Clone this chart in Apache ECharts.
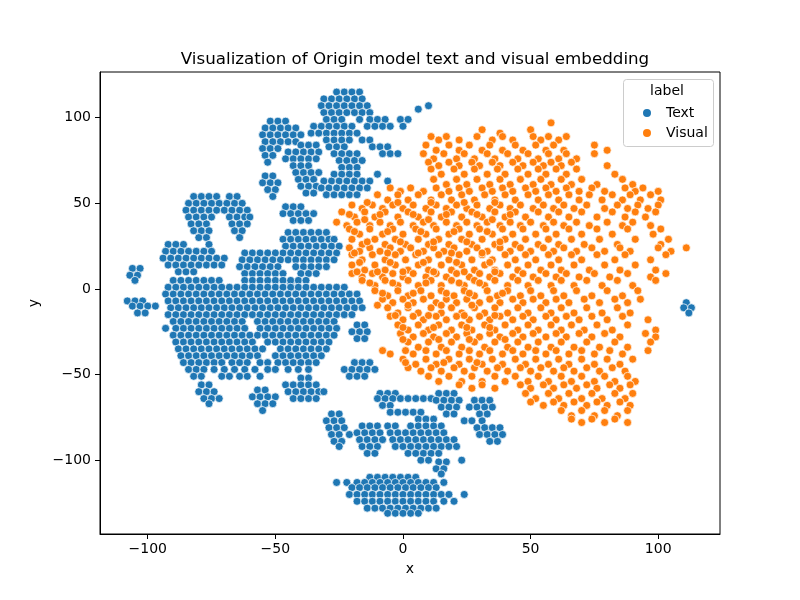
<!DOCTYPE html>
<html>
<head>
<meta charset="utf-8">
<script src="https://cdn.jsdelivr.net/npm/echarts@6/dist/echarts.min.js"></script>
<style>
    html, body { margin: 0; padding: 0; background: #fff; }
    #chart { width: 800px; height: 600px; }
</style>
</head>
<body>
<div id="chart"></div>
<script>
// every row is [y, x1, x2, ...]
const textTopRows = [
    [115, -26, -23, -20, -17],
    [111, -31, -28, -25, -22, -19, -16],
    [107, -32, -29, -26, -23, -20, -17, -14, 10],
    [103, -31, -28, -25, -22, -19, -16, -13],
    [105, 6],
    [99, -30, -27, -24, -17, -13, -10, -7, -1, 2],
    [95, -35, -32, -29, -26, -23, -20, -14, -11, -8, -5, 0],
    [91, -36, -33, -30, -27, -24, -21, -18],
    [98, -52, -49, -46],
    [94, -54, -51, -48, -45, -42],
    [90, -55, -52, -49, -46, -43, -40],
    [86, -54, -51, -48, -45, -42],
    [82, -55, -52, -49],
    [78, -54, -51],
    [74, -53],
    [84, -40, -37, -34],
    [80, -45, -42, -39, -36, -33],
    [76, -46, -43, -40, -37, -34],
    [72, -43, -40, -37],
    [68, -42, -39, -36, -33],
    [64, -41, -38, -35],
    [60, -40, -37, -34],
    [56, -38, -35],
    [87, -30, -27, -24, -21, -16, -13],
    [83, -29, -26, -23, -12, -9, -6],
    [79, -27, -24, -21, -18, -8, -5, -2],
    [75, -25, -22, -19, -16],
    [71, -24, -21, -18],
    [67, -27, -24, -21, -18, -10],
    [63, -31, -28, -25, -22, -19, -16, -13, -6],
    [59, -32, -29, -26, -23, -20, -17, -14],
    [55, -30, -27, -24, -21, -18],
    [66, -54, -51],
    [62, -55, -52, -49],
    [58, -53, -50],
    [54, -51],
    [48, -46, -43, -40],
    [44, -47, -44, -41, -38, -35],
    [40, -43, -40, -37]
];

const textLeftRows = [
    [33, -45, -42, -39, -36, -33, -30],
    [29, -47, -44, -41, -38, -35, -32, -29, -27],
    [25, -46, -43, -40, -37, -34, -31, -28, -25],
    [21, -47, -44, -41, -38, -35, -32, -29, -26],
    [17, -45, -42, -39, -36, -33, -30, -27],
    [13, -42, -39, -36, -33, -30],
    [9, -40, -37, -34],
    [3, -44],
    [54, -82, -79, -76, -73, -68, -65],
    [50, -84, -81, -78, -75, -72, -69, -66, -63],
    [46, -85, -82, -79, -76, -73, -70, -67, -64, -61],
    [42, -84, -81, -78, -75, -68, -65, -62, -60],
    [38, -83, -80, -77, -67, -64, -61],
    [34, -82, -79, -76, -66, -63],
    [30, -80, -77, -64],
    [26, -92, -89, -86, -76],
    [22, -93, -90, -87, -84, -81, -78, -75],
    [18, -94, -91, -88, -85, -82, -79, -76, -73, -70],
    [14, -92, -89, -86, -83, -80, -77, -74, -71],
    [10, -88, -85, -82],
    [12, -106, -103],
    [8, -107, -104],
    [5, -105],
    [-7, -108, -105, -102],
    [-10, -106, -103, -100, -97],
    [-14, -104, -101]
];

const textMainRows = [
    [21, -62, -59, -56, -53, -50],
    [17, -63, -60, -57, -54, -51, -48],
    [13, -64, -61, -58, -55, -52, -49],
    [9, -62, -59, -56, -53, -50, -47],
    [5, -90, -87, -84, -81, -78, -75, -72, -62, -59, -56, -53, -50, -47, -44, -41, -38],
    [1, -92, -89, -86, -83, -80, -77, -74, -71, -68, -65, -62, -59, -56, -53, -50, -47, -44, -41, -38, -35, -32, -29, -26, -23],
    [-3, -93, -90, -87, -84, -81, -78, -75, -72, -69, -66, -63, -60, -57, -54, -51, -48, -45, -42, -39, -36, -33, -30, -27, -24, -21, -18],
    [-7, -92, -89, -86, -83, -80, -77, -74, -71, -68, -65, -62, -59, -56, -53, -50, -47, -44, -41, -38, -35, -32, -29, -26, -23, -20, -17],
    [-11, -91, -88, -85, -82, -79, -76, -73, -70, -67, -64, -61, -58, -55, -52, -49, -46, -43, -40, -37, -34, -31, -28, -25, -22, -19, -16],
    [-15, -92, -89, -86, -83, -80, -77, -74, -71, -68, -65, -62, -59, -56, -53, -50, -47, -44, -41, -38, -35, -32, -29, -26, -23, -20],
    [-19, -90, -87, -84, -81, -78, -75, -72, -69, -66, -63, -57, -54, -51, -48, -45, -42, -39, -36, -33, -30, -27],
    [-23, -93, -89, -86, -83, -80, -77, -74, -71, -68, -65, -62, -56, -53, -50, -47, -44, -41, -38, -35, -32, -29, -26],
    [-27, -90, -87, -84, -81, -78, -75, -72, -69, -66, -63, -60, -57, -54, -51, -48, -45, -42, -39, -36, -33, -30, -27],
    [-31, -89, -86, -83, -80, -77, -74, -71, -68, -65, -62, -59, -53, -50, -47, -44, -41, -38, -35, -32, -29],
    [-35, -88, -85, -82, -79, -76, -73, -70, -67, -64, -61, -58, -55, -48, -45, -42, -39, -36, -33, -30],
    [-39, -87, -84, -81, -78, -75, -72, -69, -66, -63, -60, -57, -50, -47, -44, -41, -38, -35, -32],
    [-43, -86, -83, -80, -77, -74, -71, -67, -64, -61, -56, -53, -49, -46, -43, -40, -37, -34],
    [-47, -84, -81, -78, -74, -70, -66, -62, -58, -53, -50, -45, -41, -37],
    [-51, -82, -79, -71, -68, -64, -61, -56]
];

const textLowerRows = [
    [-21, -18, -15],
    [-25, -20, -17, -14],
    [-29, -18, -15],
    [-43, -19, -16, -13],
    [-47, -23, -20, -17, -14, -11],
    [-51, -21, -18, -15],
    [-56, -79, -76],
    [-60, -80, -77, -74],
    [-64, -78, -75, -72],
    [-67, -76],
    [-59, -57, -54],
    [-63, -59, -56, -53, -50],
    [-67, -57, -54, -51],
    [-71, -55],
    [-52, -40, -37],
    [-56, -46, -43, -40, -37, -34],
    [-60, -45, -42, -39, -36, -33, -31],
    [-64, -43, -40, -37, -34],
    [-8, 111],
    [-11, 113, 110],
    [-14, 112]
];

const textBottomRows = [
    [-73, -28, -25],
    [-77, -30, -27, -24],
    [-81, -29, -26, -23],
    [-85, -28, -25, -21],
    [-89, -27, -24],
    [-92, -25],
    [-80, -16, -13, -10],
    [-84, -18, -15, -12, -9],
    [-88, -17, -14, -11, -8],
    [-92, -16, -13, -10],
    [-96, -14, -11],
    [-61, -9, -6, -3],
    [-64, -10, -7, -4, -1, 2, 5, 8, 11],
    [-68, -8, -5],
    [-72, -5, -2, 1, 4, 7],
    [-76, 6, 9, 12],
    [-80, -6, -3, 3, 6, 9, 12, 15],
    [-84, -5, -2, 1, 4, 7, 10, 13, 16],
    [-88, -4, -1, 2, 5, 8, 11, 14, 17, 20],
    [-92, -3, 0, 3, 6, 9, 12, 15, 18, 21],
    [-96, 2, 5, 8, 11, 14],
    [-100, 7, 10, 23],
    [-61, 14, 17, 20],
    [-65, 13, 16, 19, 22, 28, 31, 34],
    [-69, 15, 18, 21, 26, 29, 32, 35],
    [-73, 17, 20, 30, 33],
    [-77, 24, 27, 31],
    [-81, 29, 32, 35, 38],
    [-85, 30, 33, 36, 39],
    [-89, 34, 37],
    [-101, 14, 17],
    [-105, 13, 16],
    [-108, 15]
];

const textOvalRows = [
    [-110, -13, -10, -7, -4, -1, 2, 5],
    [-113, -26, -22, -18, -15, -12, -9, -6, -3, 0, 3, 6, 9, 12, 16],
    [-116, -20, -17, -14, -11, -8, -5, -2, 1, 4, 7, 10, 13],
    [-120, -21, -18, -15, -12, -9, -6, -3, 0, 3, 6, 9, 12, 15, 18, 24],
    [-124, -18, -15, -12, -9, -6, -3, 0, 3, 6, 9, 12, 16, 20],
    [-128, -14, -11, -8, -5, -2, 1, 4, 7, 10, 13],
    [-131, -6, -3, 0, 3, 6]
];

const visualUpperRows = [
    [97, 58],
    [93, 31, 50],
    [91, 38],
    [89, 11, 17, 29, 39, 51, 57, 64],
    [87, 14, 22, 35, 43, 54, 61],
    [84, 9, 18, 26, 34, 44, 52, 59, 75],
    [81, 13, 22, 31, 39, 47, 56, 63, 80],
    [79, 8, 16, 24, 33, 41, 49, 57, 64, 75],
    [76, 12, 21, 28, 36, 45, 53, 61, 68],
    [74, 10, 18, 27, 35, 43, 51, 58, 66],
    [72, 14, 22, 30, 38, 47, 55, 62, 80],
    [70, 11, 20, 28, 37, 45, 53, 60, 68],
    [67, 15, 24, 33, 40, 49, 56, 64, 83],
    [64, 12, 21, 29, 38, 46, 54, 62, 70, 86],
    [61, 17, 25, 34, 42, 51, 58, 66, 76, 90],
    [59, -5, 3, 13, 22, 31, 39, 48, 56, 64, 74, 87, 94],
    [57, -1, 8, 18, 26, 35, 43, 52, 60, 69, 79, 91, 100],
    [55, -10, -2, 6, 15, 23, 32, 40, 49, 57, 65, 73, 82, 89, 97],
    [52, -6, 2, 11, 19, 28, 36, 44, 53, 61, 69, 78, 86, 93, 101],
    [49, -20, -12, -4, 4, 13, 21, 29, 38, 46, 55, 63, 72, 84, 92, 100],
    [47, -16, -8, 0, 9, 17, 25, 34, 42, 51, 59, 67, 79, 88, 96],
    [45, -24, -15, -7, 2, 11, 19, 27, 36, 44, 53, 61, 70, 82, 91, 99],
    [42, -19, -11, -2, 6, 15, 23, 31, 40, 48, 57, 65, 76, 87, 95],
    [39, -26, -18, -9, -1, 8, 17, 25, 33, 42, 50, 59, 68, 80, 90],
    [37, -22, -13, -5, 4, 12, 21, 29, 38, 46, 55, 63, 73, 86, 97],
    [35, -21, -13, -4, 5, 13, 22, 30, 39, 47, 56, 65, 76, 88, 101],
    [32, -17, -8, 0, 9, 18, 26, 35, 43, 52, 60, 70, 82, 98],
    [29, -20, -11, -3, 6, 14, 23, 31, 40, 48, 57, 66, 77, 91, 104],
    [26, -16, -7, 1, 10, 18, 27, 36, 44, 53, 61, 71, 84, 101],
    [24, -21, -13, -5, 3, 12, 20, 29, 38, 46, 55, 63, 74, 85, 100, 111],
    [22, -17, -9, -1, 8, 16, 25, 33, 42, 50, 59, 68, 79, 89, 105],
    [20, -20, -12, -3, 5, 14, 22, 31, 40, 48, 57, 66, 76, 87, 103],
    [17, -16, -7, 1, 10, 18, 27, 35, 44, 52, 61, 70, 83, 97]
];

const visualLowerRows = [
    [14, -20, -11, -3, 6, 15, 23, 32, 41, 49, 58, 67, 79, 91],
    [11, -15, -7, 2, 10, 19, 28, 36, 45, 54, 62, 73, 85, 99],
    [9, -20, -12, -4, 4, 13, 21, 30, 38, 47, 56, 64, 75, 88, 103],
    [7, -16, -8, 0, 9, 17, 26, 34, 43, 51, 60, 69, 81, 97],
    [5, -16, -7, 2, 11, 19, 28, 36, 45, 53, 62, 72, 84, 99],
    [2, -11, -2, 6, 15, 24, 32, 41, 49, 58, 67, 78, 90],
    [-1, -11, -2, 7, 15, 24, 33, 41, 50, 59, 68, 80, 92],
    [-4, -6, 2, 11, 20, 28, 37, 46, 54, 63, 74, 86],
    [-6, -8, 0, 8, 17, 25, 34, 43, 51, 60, 71, 83, 93],
    [-8, -4, 4, 13, 21, 30, 38, 47, 56, 65, 77, 88],
    [-11, -6, 2, 11, 19, 28, 36, 45, 54, 62, 72, 84],
    [-14, -2, 6, 15, 23, 32, 41, 49, 58, 67, 78, 89],
    [-16, -5, 4, 13, 21, 30, 38, 47, 56, 64, 74, 86],
    [-18, 0, 8, 17, 26, 34, 43, 51, 60, 69, 80, 96],
    [-21, -2, 6, 14, 23, 32, 40, 49, 58, 66, 76, 88],
    [-24, 2, 10, 19, 27, 36, 45, 53, 62, 71, 82, 99],
    [-26, -1, 8, 17, 25, 34, 43, 51, 60, 69, 79, 95],
    [-28, 4, 12, 21, 30, 38, 47, 56, 64, 74, 85, 99],
    [-31, 2, 10, 19, 28, 36, 45, 53, 62, 72, 83, 97],
    [-34, 6, 15, 23, 32, 41, 49, 58, 67, 77, 88],
    [-36, -8, 1, 9, 17, 26, 34, 43, 52, 60, 70, 81, 96],
    [-38, -5, 4, 13, 22, 30, 39, 47, 56, 65, 75, 86],
    [-41, 0, 9, 18, 26, 35, 44, 52, 61, 70, 80, 90],
    [-44, 5, 13, 22, 31, 39, 48, 57, 65, 75, 85],
    [-46, 2, 11, 20, 28, 37, 46, 54, 63, 72, 82],
    [-48, 7, 15, 24, 33, 41, 50, 59, 67, 77, 87],
    [-51, 10, 18, 27, 36, 44, 53, 62, 70, 79, 88],
    [-54, 14, 23, 31, 40, 49, 57, 66, 75, 83, 91],
    [-56, 22, 31, 46, 55, 63, 72, 81, 89],
    [-58, 27, 36, 50, 59, 68, 76, 85],
    [-61, 48, 57, 65, 74, 83, 90],
    [-64, 52, 61, 70, 78, 87],
    [-66, 50, 59, 67, 76, 85],
    [-68, 55, 63, 72, 80, 89],
    [-71, 62, 70, 79, 88],
    [-74, 66, 75, 84],
    [-76, 66, 74, 83],
    [-78, 70, 79, 88]
];

// the denser left half of the Visual cloud
const visualInnerRows = [
    [50.5, -14, -2, 11, 24, 36],
    [43.5, -21, -9, 4, 17, 29, 42],
    [40.5, -15, 10, 35],
    [33.5, -19, -6, 7, 20, 33],
    [27.5, -14, -1, 12, 25, 38],
    [21, -19, -6, 6, 19, 31],
    [15.5, -17, -5, 8, 21, 34],
    [10, -18, -10, 0, 12, 24, 36],
    [3.5, -13, -4, 9, 22, 30],
    [-2.5, -8, 4, 17, 26, 39],
    [-9.5, -10, 2, 15, 27],
    [-15.5, -3, 10, 24, 36],
    [-22.5, 0, 12, 25, 34],
    [-29.5, 0, 14, 26, 40],
    [-43, 1, 16, 29]
];

const xTicks = [-100, -50, 0, 50, 100];
const yTicks = [-100, -50, 0, 50, 100];

function rows_to_points(rows) {
    const points = [];
    rows.forEach(function (row) {
        for (let i = 1; i < row.length; i++) {
            points.push([row[i], row[0]]);
        }
    });
    return points;
}

function tick_label(value) {
    return value < 0 ? '\u2212' + Math.abs(value) : String(value);
}

const TextPoints = [].concat(
    rows_to_points(textTopRows),
    rows_to_points(textLeftRows),
    rows_to_points(textMainRows),
    rows_to_points(textLowerRows),
    rows_to_points(textBottomRows),
    rows_to_points(textOvalRows)
);
const VisualPoints = [].concat(
    rows_to_points(visualUpperRows),
    rows_to_points(visualLowerRows),
    rows_to_points(visualInnerRows)
);

const axisFont = {fontSize: 14, color: '#000', fontFamily: 'DejaVu Sans'};

var option = {
    animation: false,
    textStyle: {fontFamily: 'DejaVu Sans'},
    title: {
        text: 'Visualization of Origin model text and visual embedding',
        left: 410,
        top: 46,
        textAlign: 'center',
        textStyle: {fontSize: 16.7, fontWeight: 'normal', color: '#000', fontFamily: 'DejaVu Sans'}
    },
    grid: {
        left: 100,
        right: 80,
        top: 72,
        bottom: 66,
        show: true,
        borderColor: '#000',
        borderWidth: 1,
        containLabel: false,
        outerBoundsMode: 'none'
    },
    xAxis: {
        type: 'value',
        min: -118.7,
        max: 124.2,
        name: 'x',
        nameLocation: 'middle',
        nameGap: 28,
        nameTextStyle: axisFont,
        splitLine: {show: false},
        axisLine: {show: true, onZero: false, lineStyle: {color: '#000', width: 1}},
        axisTick: {show: true, length: 5, customValues: xTicks, lineStyle: {color: '#000'}},
        axisLabel: Object.assign({customValues: xTicks, margin: 8, formatter: tick_label}, axisFont)
    },
    yAxis: {
        type: 'value',
        min: -143.1,
        max: 126.7,
        name: 'y',
        nameLocation: 'middle',
        nameGap: 47,
        nameTextStyle: axisFont,
        splitLine: {show: false},
        axisLine: {show: true, onZero: false, lineStyle: {color: '#000', width: 1}},
        axisTick: {show: true, length: 5, customValues: yTicks, lineStyle: {color: '#000'}},
        axisLabel: Object.assign({customValues: yTicks, margin: 9, formatter: tick_label}, axisFont)
    },
    legend: {
        data: ['Text', 'Visual'],
        orient: 'vertical',
        left: 636,
        top: 101,
        itemWidth: 10,
        itemHeight: 10,
        itemGap: 6,
        icon: 'circle',
        z: 12,
        textStyle: {fontSize: 14, color: '#000', fontFamily: 'DejaVu Sans', padding: [0, 0, 0, 9]}
    },
    graphic: [
        {
            type: 'rect',
            left: 623,
            top: 79,
            z: 10,
            shape: {width: 90, height: 67, r: 3},
            style: {fill: 'rgba(255,255,255,0.85)', stroke: '#cccccc', lineWidth: 1}
        },
        {
            type: 'text',
            x: 667,
            y: 91,
            z: 11,
            style: {text: 'label', align: 'center', verticalAlign: 'middle', fontSize: 14, fontFamily: 'DejaVu Sans', fill: '#000'}
        }
    ],
    series: [{
        name: 'Text',
        type: 'scatter',
        data: TextPoints,
        symbolSize: 8,
        itemStyle: {color: '#1f77b4', borderColor: '#ffffff', borderWidth: 0.7, opacity: 1},
        emphasis: {disabled: true}
    }, {
        name: 'Visual',
        type: 'scatter',
        data: VisualPoints,
        symbolSize: 8,
        itemStyle: {color: '#ff7f0e', borderColor: '#ffffff', borderWidth: 0.7, opacity: 1},
        emphasis: {disabled: true}
    }]
};

var scatterChart = echarts.init(document.getElementById('chart'));
scatterChart.setOption(option);
</script>
</body>
</html>
